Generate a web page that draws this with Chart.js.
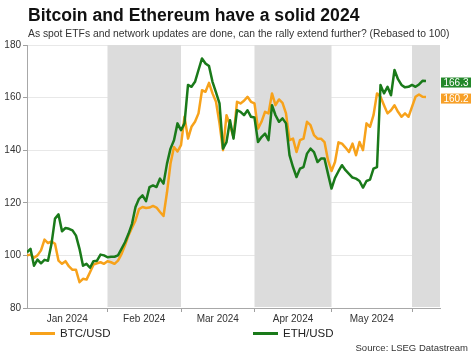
<!DOCTYPE html>
<html><head><meta charset="utf-8">
<script src="https://cdn.jsdelivr.net/npm/chart.js@4"></script>
<style>
html,body{margin:0;padding:0;background:#fff;}
#wrap{position:relative;width:474px;height:355px;font-family:"Liberation Sans",Arial,sans-serif;color:#222;overflow:hidden}
#c{position:absolute;left:0;top:0}
.t{position:absolute;white-space:nowrap;}
#title{left:28px;top:5.5px;font-size:17.6px;font-weight:bold;line-height:18px;color:#111}
#sub{left:28px;top:28.5px;font-size:10.35px;line-height:10.5px;color:#333}
.leg{position:absolute;top:326.5px;font-size:11.5px;line-height:13px;color:#222;white-space:nowrap}
.sw{position:absolute;top:331.5px;width:25px;height:3px}
#src{right:6px;top:343px;font-size:9.5px;line-height:10px;color:#333}
</style></head>
<body>
<div id="wrap">
<canvas id="c" width="474" height="355"></canvas>
<div class="t" id="title">Bitcoin and Ethereum have a solid 2024</div>
<div class="t" id="sub">As spot ETFs and network updates are done, can the rally extend further? (Rebased to 100)</div>
<div class="sw" style="left:30px;background:#f7a21b"></div>
<div class="leg" style="left:60px">BTC/USD</div>
<div class="sw" style="left:253px;background:#1a7a1a"></div>
<div class="leg" style="left:283px">ETH/USD</div>
<div class="t" id="src">Source: LSEG Datastream</div>
</div>
<script>
// Weekday index: 0 = 1 Jan 2024
const monthLabels = ['Jan 2024','Feb 2024','Mar 2024','Apr 2024','May 2024'];
const monthStarts = [0, 23, 44, 65, 87, 110];   // first weekday index of Jan..Jun
const shadedRanges = [[23, 44], [65, 87], [110, 118]];
const xMax = 118;
const yTicks = [80, 100, 120, 140, 160, 180];

const btcValues = [
 100.0,100.3,99.1,100.0,101.9,106.0,104.7,105.3,104.4,98.0,
 96.8,97.8,95.8,94.5,94.5,89.8,91.1,90.8,93.6,96.5,
 97.0,97.4,96.8,97.8,97.4,96.8,98.0,100.5,103.8,107.6,
 110.5,113.3,117.6,118.4,118.0,118.2,118.8,118.2,116.5,115.0,
 124.0,134.9,141.2,139.5,141.9,152.7,144.4,148.9,150.8,154.0,
 162.8,162.2,165.6,161.6,158.4,150.2,140.0,153.3,149.5,145.0,
 158.4,157.8,158.8,160.3,158.4,157.8,148.2,150.8,154.6,154.0,
 161.6,157.1,159.3,158.0,154.0,143.8,144.4,139.3,143.8,144.4,
 150.8,149.5,145.7,144.4,144.4,143.1,136.2,132.1,135.5,143.0,
 142.5,141.0,139.3,142.5,138.1,143.1,140.0,150.2,148.9,153.3,
 161.6,160.3,157.1,154.0,155.2,157.1,154.6,152.7,154.0,152.7,
 156.5,160.3,161.2,160.3,160.2
];
const ethValues = [
 101.2,102.5,96.1,98.4,97.0,98.3,98.0,104.4,114.0,115.6,
 109.2,110.4,110.1,109.5,107.5,102.5,96.1,96.8,95.3,97.8,
 98.0,100.3,100.0,99.3,99.5,99.5,100.0,102.5,105.0,108.2,
 112.0,118.4,121.5,122.8,120.6,126.0,126.6,126.0,129.2,127.3,
 134.9,140.6,143.8,150.2,147.6,150.2,164.8,164.1,166.0,170.5,
 174.9,173.0,172.0,166.0,162.0,157.8,140.6,143.1,151.4,144.4,
 155.2,154.6,153.3,155.2,152.7,152.4,143.1,145.0,146.3,143.8,
 157.1,153.3,150.8,152.1,150.2,138.1,133.6,129.8,133.0,133.6,
 138.7,140.6,139.3,135.5,136.8,136.8,131.0,125.4,129.5,132.0,
 134.3,132.4,131.0,129.6,129.2,128.3,125.8,128.3,128.8,133.0,
 133.6,164.8,161.6,164.1,160.9,170.5,167.0,164.8,163.9,164.1,
 164.8,164.1,165.0,166.4,166.3
];

const BTC_COLOR = '#f7a21b', ETH_COLOR = '#1a7a1a';
const BTC_BOX = '#f7a028', ETH_BOX = '#23882a';

const toPts = arr => arr.map((v, i) => ({x: i, y: v}));

const shadePlugin = {
  id: 'shade',
  beforeDatasetsDraw(chart) {
    const {ctx, chartArea: a, scales: {x}} = chart;
    ctx.save();
    ctx.fillStyle = '#dcdcdc';
    shadedRanges.forEach(([s, e]) => {
      const x0 = x.getPixelForValue(s), x1 = x.getPixelForValue(e);
      ctx.fillRect(x0, a.top, x1 - x0, a.bottom - a.top - 1);
    });
    ctx.restore();
  }
};

const endLabelPlugin = {
  id: 'endLabels',
  afterDatasetsDraw(chart) {
    const {ctx, chartArea: a, scales: {y}} = chart;
    ctx.save();
    chart.data.datasets.forEach(ds => {
      const last = ds.data[ds.data.length - 1].y;
      const yy = y.getPixelForValue(last) + 1.5;
      ctx.fillStyle = ds.boxColor;
      ctx.fillRect(a.right + 1, yy - 5, 30, 10);
      ctx.fillStyle = '#ffffff';
      ctx.font = '10px "Liberation Sans", Arial, sans-serif';
      ctx.textAlign = 'center';
      ctx.textBaseline = 'middle';
      ctx.fillText(last.toFixed(1), a.right + 16, yy + 0.5);
    });
    ctx.restore();
  }
};

new Chart(document.getElementById('c'), {
  type: 'line',
  data: {
    datasets: [
      {label: 'BTC/USD', data: toPts(btcValues), borderColor: BTC_COLOR, boxColor: BTC_BOX,
       borderWidth: 2.5, pointRadius: 0, tension: 0, borderJoinStyle: 'round', order: 2},
      {label: 'ETH/USD', data: toPts(ethValues), borderColor: ETH_COLOR, boxColor: ETH_BOX,
       borderWidth: 2.5, pointRadius: 0, tension: 0, borderJoinStyle: 'round', order: 1}
    ]
  },
  options: {
    responsive: false,
    animation: false,
    events: [],
    layout: {padding: {left: 0, right: 34, top: 45, bottom: 27}},
    plugins: {legend: {display: false}, tooltip: {enabled: false}, title: {display: false}},
    scales: {
      x: {
        type: 'linear', min: 0, max: xMax,
        afterFit: s => { s.height = 20; },
        afterBuildTicks: s => {
          const t = monthStarts.slice(1).map(v => ({value: v}));
          monthLabels.forEach((l, i) => t.push({value: (monthStarts[i] + monthStarts[i + 1]) / 2, name: l}));
          t.sort((a, b) => a.value - b.value);
          s.ticks = t;
        },
        ticks: {
          autoSkip: false, maxRotation: 0, padding: 1,
          color: '#333', font: {family: '"Liberation Sans", Arial, sans-serif', size: 10},
          callback: (v, i, ticks) => ticks[i].name || ''
        },
        grid: {
          drawOnChartArea: false, tickLength: 4,
          tickColor: c => (c.tick && monthStarts.includes(c.tick.value)) ? '#a0a0a0' : 'rgba(0,0,0,0)'
        },
        border: {color: '#a8a8a8'}
      },
      y: {
        min: 80, max: 180,
        afterFit: s => { s.width = 27; },
        afterBuildTicks: s => { s.ticks = yTicks.map(v => ({value: v})); },
        ticks: {padding: 2, color: '#333', font: {family: '"Liberation Sans", Arial, sans-serif', size: 10}},
        grid: {color: '#e8e8e8', tickLength: 4, tickColor: '#a0a0a0'},
        border: {color: '#a8a8a8'}
      }
    }
  },
  plugins: [shadePlugin, endLabelPlugin]
});
</script>
</body></html>
